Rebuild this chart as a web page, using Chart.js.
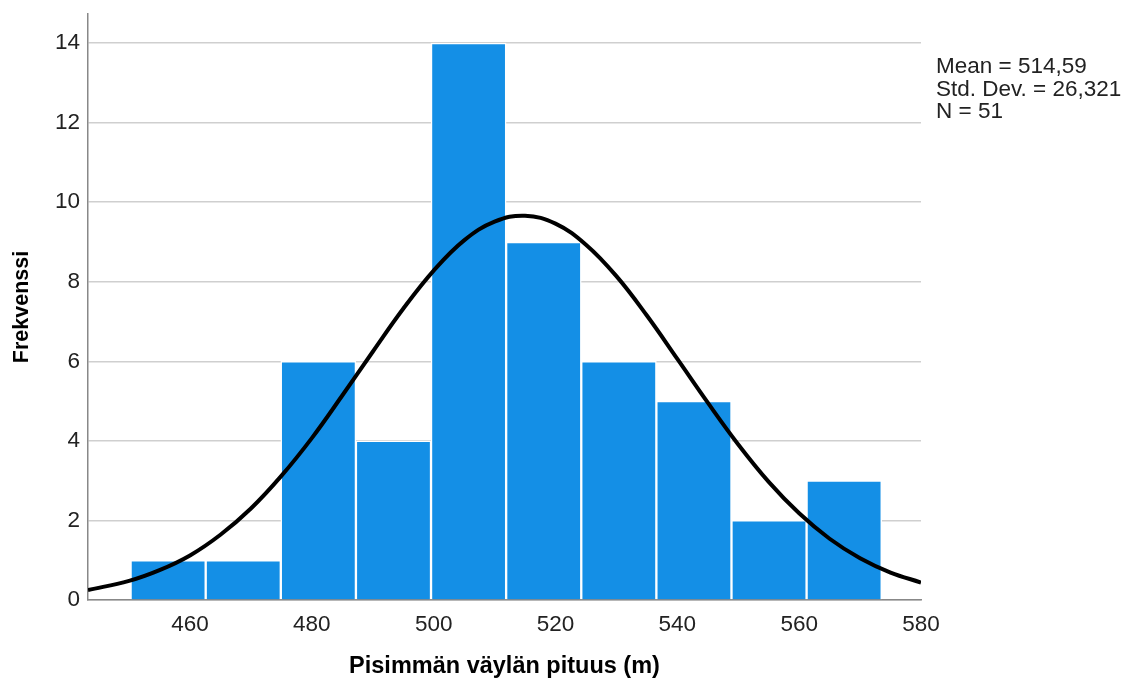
<!DOCTYPE html>
<html>
<head>
<meta charset="utf-8">
<script src="https://cdn.jsdelivr.net/npm/chart.js@4/dist/chart.umd.min.js"></script>
<style>
  html, body { margin: 0; padding: 0; background: #fff; }
  #wrap { width: 1138px; height: 682px; }
</style>
</head>
<body>
<div id="wrap"><canvas id="myChart" width="1138" height="682"></canvas></div>
<script>
// histogram bins (start of each bin) and counts
var binStarts = [450.25, 462.58, 474.91, 487.24, 499.57, 511.9, 524.23, 536.56, 548.89, 561.22];
var binWidth = 12.33;
var counts = [1, 1, 6, 4, 14, 9, 6, 5, 2, 3];

// normal curve
var curveX = [443.26, 450, 455, 460, 465, 470, 475, 480, 485, 490, 495, 500, 505, 510, 515,
              520, 525, 530, 535, 540, 545, 550, 555, 560, 565, 570, 575, 580];
var curveY = [0.25, 0.48, 0.75, 1.12, 1.64, 2.30, 3.12, 4.07, 5.14, 6.24, 7.32, 8.28, 9.04, 9.51, 9.66,
              9.46, 8.93, 8.14, 7.15, 6.06, 4.96, 3.91, 2.97, 2.18, 1.54, 1.05, 0.69, 0.44];

var xTicks = [460, 480, 500, 520, 540, 560, 580];
var yTicks = [0, 2, 4, 6, 8, 10, 12, 14];

var statLines = ["Mean = 514,59", "Std. Dev. = 26,321", "N = 51"];
var xTitle = "Pisimmän väylän pituus (m)";
var yTitle = "Frekvenssi";

var barData = binStarts.map(function (s, i) {
    return { x: s + binWidth / 2, y: counts[i] };
});
var lineData = curveX.map(function (x, i) {
    return { x: x, y: curveY[i] };
});

var FONT = "'Liberation Sans', Arial, sans-serif";

// stats text at the right of the plot
var statsText = {
    id: "statsText",
    afterDraw: function (chart) {
        var c = chart.ctx;
        c.save();
        c.font = "22.5px " + FONT;
        c.fillStyle = "#222";
        c.textAlign = "left";
        c.textBaseline = "middle";
        statLines.forEach(function (t, i) {
            c.fillText(t, 936, 67 + i * 22.5);
        });
        c.restore();
    }
};

var ctx = document.getElementById("myChart");
var myChart = new Chart(ctx, {
    type: "bar",
    data: {
        datasets: [{
            type: "line",
            data: lineData,
            borderColor: "#000",
            borderWidth: 4,
            pointRadius: 0,
            tension: 0.4,
            fill: false,
            order: 0
        }, {
            type: "bar",
            data: barData,
            backgroundColor: "rgb(20, 143, 230)",
            borderColor: "#fff",
            borderWidth: 1.5,
            barPercentage: 1,
            categoryPercentage: 1,
            order: 1
        }]
    },
    options: {
        responsive: false,
        animation: false,
        layout: { padding: { top: 14, right: 217, left: 0, bottom: 0 } },
        plugins: {
            legend: { display: false },
            tooltip: { enabled: false }
        },
        scales: {
            x: {
                type: "linear",
                min: 443.26,
                max: 580,
                offset: false,
                grid: { display: false, offset: false, drawTicks: false },
                border: { display: true, color: "#888", width: 1.5 },
                afterBuildTicks: function (s) {
                    s.ticks = xTicks.map(function (v) { return { value: v }; });
                },
                afterFit: function (s) {
                    s.height = 82;
                    s.paddingLeft = 0;
                    s.paddingRight = 0;
                },
                ticks: {
                    padding: 11,
                    color: "#222",
                    font: { family: FONT, size: 22.5 },
                    maxRotation: 0
                },
                title: {
                    display: true,
                    text: xTitle,
                    color: "#000",
                    font: { family: FONT, size: 23.5, weight: "bold" },
                    padding: { top: 1, bottom: 1 }
                }
            },
            y: {
                min: 0,
                max: 14.73,
                grid: { color: "#cfcfcf", lineWidth: 1.5, drawTicks: false },
                border: { display: true, color: "#888", width: 1.5 },
                afterBuildTicks: function (s) {
                    s.ticks = yTicks.map(function (v) { return { value: v }; });
                },
                afterFit: function (s) {
                    s.width = 88;
                    s.paddingTop = 0;
                    s.paddingBottom = 0;
                },
                ticks: {
                    padding: 8,
                    color: "#222",
                    font: { family: FONT, size: 22.5 }
                },
                title: {
                    display: true,
                    text: yTitle,
                    color: "#000",
                    font: { family: FONT, size: 21.5, weight: "bold" },
                    padding: { top: 9, bottom: 0 }
                }
            }
        }
    },
    plugins: [statsText]
});
</script>
</body>
</html>
